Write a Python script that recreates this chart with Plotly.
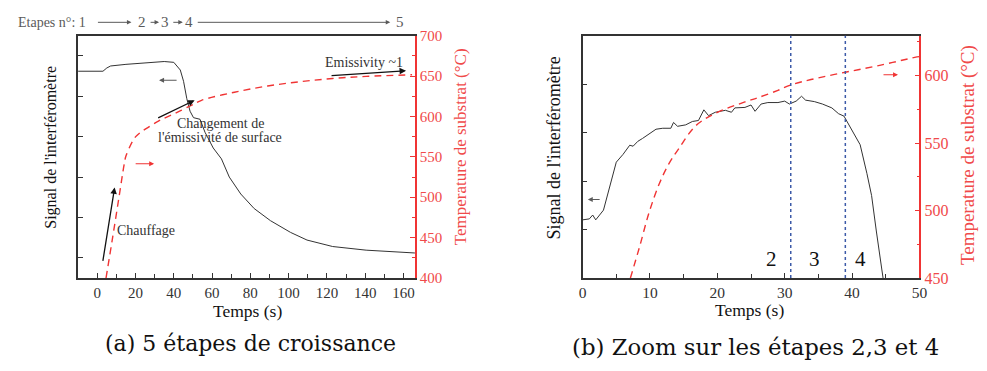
import plotly.graph_objects as go

# ---------------- data ----------------
# Panel (a): full growth, 5 stages
a_sig_t = [-10, 3, 5, 7, 15, 25, 35, 40, 43.4, 45.1, 46.8, 48.5, 50.3, 53.7, 56.3, 60.6,
           64.9, 69, 75, 82, 90.5, 101, 109.6, 123, 140.5, 166]
a_sig_v = [5.12, 5.12, 5.20, 5.25, 5.29, 5.33, 5.36, 5.34, 5.15, 4.87, 4.44, 4.13, 3.97, 3.93, 3.61, 3.22,
           2.95, 2.50, 2.08, 1.72, 1.42, 1.13, 0.94, 0.78, 0.69, 0.62]
a_temp_t = [4.6, 8.1, 11.5, 14.1, 15, 18.4, 20.1, 21.9, 25.3, 32.2, 40.8, 49.4, 54.5, 71.7,
            89, 106, 123, 140.5, 164.5]
a_temp_v = [400, 451, 502, 541, 551, 569, 575, 579, 584.6, 594.5, 604, 614, 620, 630,
            637.7, 643, 647, 649.6, 651.6]
a_xticks = [0, 20, 40, 60, 80, 100, 120, 140, 160]
a_tticks = [400, 450, 500, 550, 600, 650, 700]

# Panel (b): zoom on stages 2, 3, 4
b_sig_t = [0, 1.0, 1.5, 1.95, 3.1, 4.05, 5.0, 6.0, 7.0, 7.5, 8.2, 8.9, 9.9, 10.9, 11.9, 13.1, 13.5,
           14.1, 15.3, 16.3, 17.2, 18.0, 18.7, 19.7, 21.2, 22.1, 22.6, 24.1, 25.0, 25.6, 26.5,
           27.5, 29.0, 30.0, 30.7, 31.7, 32.5, 33.1, 34.4, 35.6, 37.0, 38.0, 38.8, 39.7, 40.7,
           41.2, 42.2, 42.9, 43.6, 44.4, 44.6]
b_sig_v = [1.20, 1.22, 1.30, 1.20, 1.40, 1.89, 2.39, 2.55, 2.74, 2.72, 2.82, 2.88, 2.98, 3.07, 3.09,
           3.09, 3.21, 3.13, 3.16, 3.23, 3.25, 3.47, 3.35, 3.42, 3.46, 3.42, 3.51, 3.52, 3.57, 3.44,
           3.59, 3.62, 3.62, 3.65, 3.59, 3.65, 3.75, 3.67, 3.64, 3.59, 3.51, 3.39, 3.34, 3.11, 2.85,
           2.75, 2.16, 1.70, 0.97, 0.19, 0.0]
b_temp_t = [7.1, 8.45, 9.9, 11.4, 12.8, 14.3, 16.8, 19.7, 24.1, 26, 29, 30.9, 33.9, 39, 44.1, 49.3, 50]
b_temp_v = [450, 473, 499, 520, 534.5, 546, 562.8, 572, 580.4, 583.5, 589, 593, 597, 602.4, 607.5, 613.4, 614]
b_stage_bounds = [30.9, 39.0]
b_stage_labels = ["2", "3", "4"]
b_stage_label_t = [28.1, 34.4, 41.3]
b_xticks = [0, 10, 20, 30, 40, 50]
b_tticks = [450, 500, 550, 600]

# ---------------- styles ----------------
W, H = 987, 371
SERIF = "Liberation Serif"
RED = "#f03434"
RED_TXT = "#f04a4a"
DARK = "#333333"
GRAY = "#5a5a5a"


def px(x):
    return x / W


def py(y):
    return 1 - y / H


fig = go.Figure()

fig.add_trace(go.Scatter(x=a_sig_t, y=a_sig_v, mode="lines", line=dict(color=DARK, width=1),
                         xaxis="x", yaxis="y", showlegend=False))
fig.add_trace(go.Scatter(x=a_temp_t, y=a_temp_v, mode="lines", line=dict(color=RED, width=1.4, dash="7px,5px"),
                         line_shape="spline", xaxis="x", yaxis="y2", showlegend=False))
fig.add_trace(go.Scatter(x=b_sig_t, y=b_sig_v, mode="lines", line=dict(color=DARK, width=1),
                         xaxis="x2", yaxis="y3", showlegend=False))
fig.add_trace(go.Scatter(x=b_temp_t, y=b_temp_v, mode="lines", line=dict(color=RED, width=1.4, dash="7px,5px"),
                         line_shape="spline", xaxis="x2", yaxis="y4", showlegend=False))

ydom = [py(283), py(29)]
axis_common = dict(showgrid=False, zeroline=False, showline=True, linewidth=1.5, ticks="inside",
                   ticklen=5, tickwidth=1)

fig.update_layout(
    width=W, height=H, margin=dict(l=0, r=0, t=0, b=0),
    paper_bgcolor="white", plot_bgcolor="white",
    font=dict(family=SERIF, color=DARK),
    xaxis=dict(domain=[px(75), px(416)], range=[-10, 166], anchor="y", tickvals=a_xticks,
               linecolor=DARK, tickcolor=DARK, mirror=True,
               minor=dict(dtick=10, tick0=0, ticks="inside", ticklen=4, tickcolor=DARK),
               tickfont=dict(size=15, color=DARK, family=SERIF), **axis_common),
    yaxis=dict(domain=ydom, range=[0, 6], anchor="x", tickvals=[0.5, 1.5, 2.5, 3.5, 4.5, 5.5],
               showticklabels=False, linecolor=DARK, tickcolor=DARK, **axis_common),
    yaxis2=dict(domain=ydom, range=[400, 700], anchor="x", overlaying="y", side="right",
                tickvals=a_tticks, linecolor=RED, tickcolor=RED,
                minor=dict(dtick=25, tick0=400, ticks="inside", ticklen=3, tickcolor=RED),
                tickfont=dict(size=15, color=RED_TXT, family=SERIF), **axis_common),
    xaxis2=dict(domain=[px(585.7), px(926.7)], range=[0, 50], anchor="y3", tickvals=b_xticks,
                linecolor=DARK, tickcolor=DARK, mirror=True,
                minor=dict(dtick=5, tick0=0, ticks="inside", ticklen=4, tickcolor=DARK),
                tickfont=dict(size=15.5, color=DARK, family=SERIF), **axis_common),
    yaxis3=dict(domain=ydom, range=[0, 5], anchor="x2", tickvals=[0, 1, 2, 3, 4, 5],
                showticklabels=False, linecolor=DARK, tickcolor=DARK, **axis_common),
    yaxis4=dict(domain=ydom, range=[450, 629.5], anchor="x2", overlaying="y3", side="right",
                tickvals=b_tticks, linecolor=RED, tickcolor=RED,
                minor=dict(dtick=25, tick0=450, ticks="inside", ticklen=3, tickcolor=RED),
                tickfont=dict(size=16, color=RED_TXT, family=SERIF), **axis_common),
)

# stage boundaries in (b)
for tb in b_stage_bounds:
    fig.add_shape(type="line", xref="x2", yref="paper", x0=tb, x1=tb, y0=ydom[0], y1=ydom[1],
                  line=dict(color="#3c5aa8", width=1.5, dash="dot"))

ann = []


def text(x, y, s, size=14, color=DARK, angle=0, family=SERIF):
    ann.append(dict(x=px(x), y=py(y), xref="paper", yref="paper", text=s, showarrow=False,
                    xanchor="center", yanchor="middle", textangle=angle,
                    font=dict(size=size, color=color, family=family)))


def arrow(x0, y0, x1, y1, color=DARK, width=1.2, size=1.0):
    ann.append(dict(x=px(x1), y=py(y1), xref="paper", yref="paper", ax=x0 - x1, ay=y0 - y1,
                    axref="pixel", ayref="pixel", text="", showarrow=True, arrowhead=2,
                    arrowsize=size, arrowwidth=width, arrowcolor=color, standoff=0, startstandoff=0))


# ---- panel (a) ----
text(48.5, 15, "Etapes n°: 1", 14, GRAY)
arrow(94, 15, 129, 15, GRAY, 1, 0.9)
text(140, 15, "2", 15, GRAY)
arrow(147, 15, 157, 15, GRAY, 1, 0.9)
text(163, 15, "3", 15, GRAY)
arrow(170, 15, 181, 15, GRAY, 1, 0.9)
text(187.5, 15, "4", 15, GRAY)
arrow(197, 15, 391, 15, GRAY, 1, 0.9)
text(401, 15, "5", 15, GRAY)

text(364.5, 57, "Emissivity ~1", 14, DARK)
arrow(331, 70.7, 407, 65.7, "#111111", 1.3)
arrow(176, 75.7, 157, 75.7, GRAY, 1.1, 0.9)
arrow(155, 115, 193, 96.7, "#111111", 1.3)
text(219, 120.7, "Changement de", 14, DARK)
text(219, 136, "l'émissivité de surface", 14, DARK)
arrow(132, 163.3, 152, 163.3, RED, 1.1, 0.9)
arrow(100, 263, 112, 188, "#111111", 1.3)
text(144, 232.7, "Chauffage", 14, DARK)

text(48, 146, "Signal de l'interféromètre", 16, "#111111", -90)
text(462, 145.5, "Temperature de substrat (°C)", 17, RED_TXT, -90)
text(247, 318, "Temps (s)", 17.5, "#111111")
text(250, 352, "(a) 5 étapes de croissance", 22, "#111111", 0, "DejaVu Serif")

# ---- panel (b) ----
for lab, tt in zip(b_stage_labels, b_stage_label_t):
    ann.append(dict(x=tt, y=py(263), xref="x2", yref="paper", text=lab, showarrow=False,
                    xanchor="center", yanchor="middle", font=dict(size=21, color="#111111", family=SERIF)))
arrow(889, 70, 905, 70, RED, 1.1, 0.9)
arrow(604.3, 200.7, 591, 200.7, GRAY, 1.1, 0.9)

text(557, 147, "Signal de l'interféromètre", 18, "#111111", -90)
text(976, 154, "Temperature de substrat (°C)", 19, RED_TXT, -90)
text(755, 316, "Temps (s)", 17.5, "#111111")
text(761, 355, "(b) Zoom sur les étapes 2,3 et 4", 22.8, "#111111", 0, "DejaVu Serif")

fig.update_layout(annotations=ann)
fig.write_html("out.html", config={"displayModeBar": False},
               post_script="document.body.style.margin='0';")
